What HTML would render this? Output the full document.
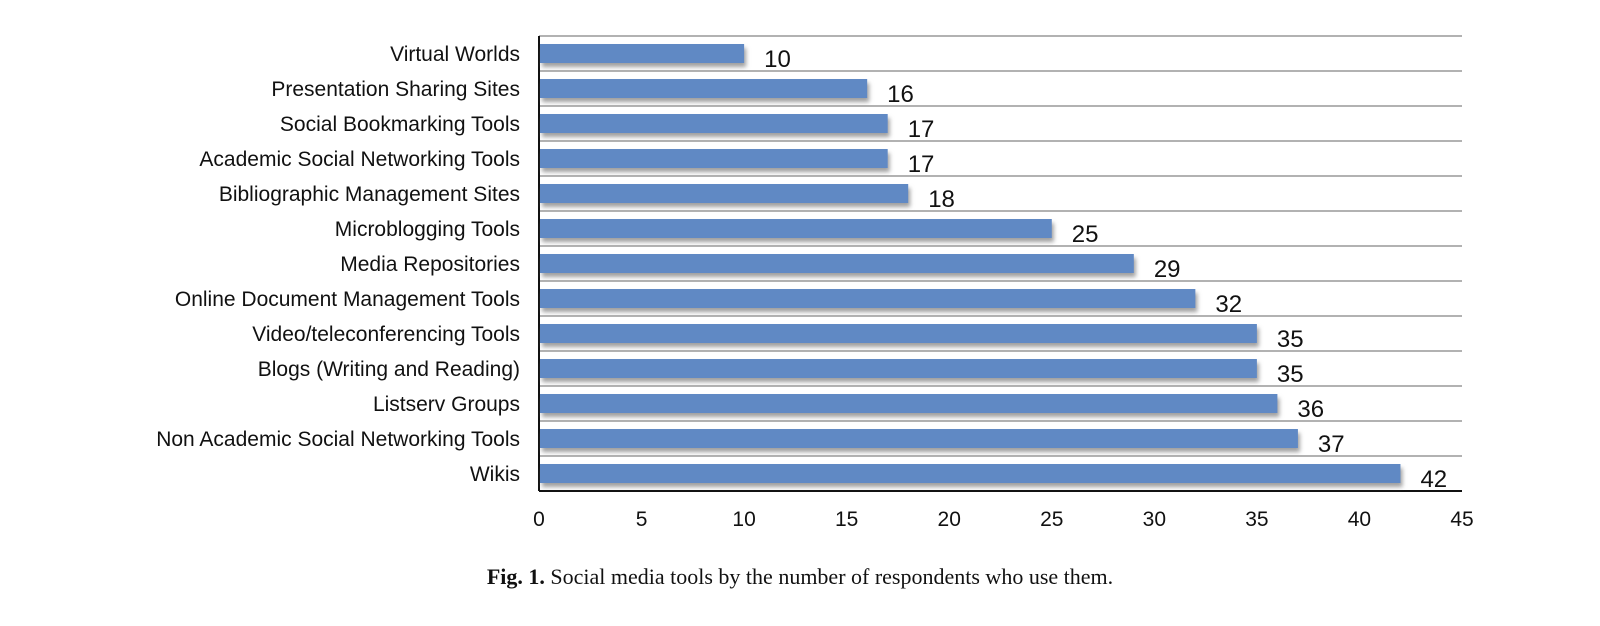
<!DOCTYPE html>
<html><head><meta charset="utf-8"><style>
body{margin:0;background:#fff;}
svg text{font-family:"Liberation Sans","DejaVu Sans",sans-serif;fill:#111;}
</style></head><body>
<svg width="1600" height="621" id="chart">
<defs><filter id="sh" x="-5%" y="-30%" width="110%" height="190%"><feDropShadow dx="2" dy="4" stdDeviation="2" flood-color="#777" flood-opacity="0.7"/></filter></defs>
<g id="grid"></g><g id="bars"></g><g id="labels"></g><g id="ticks"></g>
<text x="800" y="584" text-anchor="middle" style="font-family:'Liberation Serif',serif;font-size:22px"><tspan font-weight="bold">Fig. 1.</tspan> Social media tools by the number of respondents who use them.</text>
</svg>
<script>
const categories=["Virtual Worlds","Presentation Sharing Sites","Social Bookmarking Tools","Academic Social Networking Tools","Bibliographic Management Sites","Microblogging Tools","Media Repositories","Online Document Management Tools","Video/teleconferencing Tools","Blogs (Writing and Reading)","Listserv Groups","Non Academic Social Networking Tools","Wikis"];
const values=[10,16,17,17,18,25,29,32,35,35,36,37,42];
const tickLabels=[0,5,10,15,20,25,30,35,40,45];
const NS="http://www.w3.org/2000/svg";
const x0=539,x1=1462,top0=36,rowH=35,xMax=45;
const xs=v=>x0+(x1-x0)*v/xMax;
const ys=i=>top0+i*rowH;
function mk(t,a,p){const e=document.createElementNS(NS,t);for(const k in a)e.setAttribute(k,a[k]);document.getElementById(p).appendChild(e);return e;}
for(let i=0;i<categories.length;i++){
  const g=mk("line",{x1:x0,x2:x1,y1:ys(i),y2:ys(i),stroke:"#999","stroke-width":1.5},"grid");
  
  
}
const ax=mk("line",{x1:x0,x2:x1,y1:ys(categories.length),y2:ys(categories.length),stroke:"#111","stroke-width":2},"grid");


const ay=mk("line",{x1:x0,x2:x0,y1:top0,y2:ys(categories.length),stroke:"#111","stroke-width":2},"grid");


categories.forEach((c,i)=>{
  const y=ys(i);
  const b=mk("rect",{x:x0+1,y:y+8,width:xs(values[i])-x0-1,height:19,fill:"#6089c4",filter:"url(#sh)"},"bars");
  
  
  const l=mk("text",{x:520,y:y+25,"text-anchor":"end","font-size":"21"},"labels");l.textContent=c;
  
  
  const v=mk("text",{x:xs(values[i])+20,y:y+31,"font-size":"24"},"labels");v.textContent=values[i];
  
  
});
tickLabels.forEach(t=>{
  const e=mk("text",{x:xs(t),y:526,"text-anchor":"middle","font-size":"21"},"ticks");e.textContent=t;
  
  
});
</script>
</body></html>
